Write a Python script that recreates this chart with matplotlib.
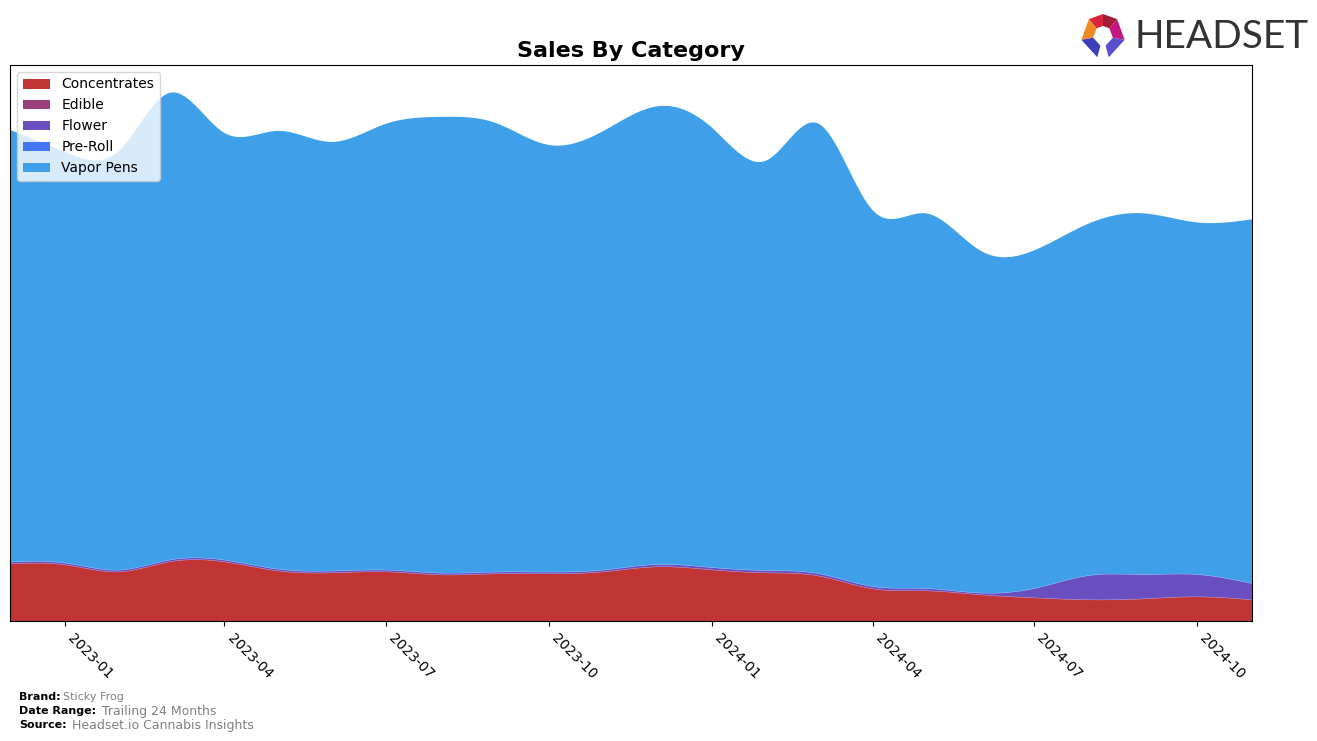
import numpy as np
import matplotlib
matplotlib.use("Agg")
import matplotlib.pyplot as plt
import matplotlib.dates as mdates
from matplotlib.patches import Polygon
import datetime as dt

# ---------------- data (monthly sales, relative units) ----------------
months = ["2022-12", "2023-01", "2023-02", "2023-03", "2023-04", "2023-05",
          "2023-06", "2023-07", "2023-08", "2023-09", "2023-10", "2023-11",
          "2023-12", "2024-01", "2024-02", "2024-03", "2024-04", "2024-05",
          "2024-06", "2024-07", "2024-08", "2024-09", "2024-10", "2024-11"]

categories = ["Concentrates", "Edible", "Flower", "Pre-Roll", "Vapor Pens"]

concentrates = [57, 56, 49, 59, 59, 50, 48, 49, 46, 47, 47, 49,
                54, 51, 48, 45, 32, 30, 26, 23, 21, 22, 24, 21]
edible = [0.3, 0.3, 0.3, 0.3, 0.3, 0.3, 0.3, 0.3, 0.3, 0.3, 0.3, 0.3,
          0.3, 0.3, 0.3, 0.3, 0.3, 0.3, 0.3, 0.3, 0.3, 0.3, 0.3, 0.3]
flower = [1.5, 1.5, 1.5, 1.5, 1.5, 1.5, 1.5, 1.5, 1.5, 1.5, 1.5, 1.5,
          2.0, 2.0, 2.0, 2.0, 2.0, 2.0, 1.5, 9, 24, 24, 22, 16]
preroll = [0.3, 0.3, 0.3, 0.3, 0.3, 0.3, 0.3, 0.3, 0.3, 0.3, 0.3, 0.3,
           0.3, 0.3, 0.3, 0.3, 0.3, 0.3, 0.3, 0.3, 0.3, 0.3, 0.3, 0.3]
vapor_pens = [432, 411, 420, 467, 427, 438, 429, 446, 456, 449, 427, 439,
              458, 440, 410, 450, 376, 375, 342, 338, 352, 361, 352, 364]

colors = ["#C13434", "#9A3F7C", "#6A4FC0", "#4375F5", "#3FA0E9"]

tick_labels = ["2023-01", "2023-04", "2023-07", "2023-10",
               "2024-01", "2024-04", "2024-07", "2024-10"]

# ---------------- helpers ----------------
def natural_spline(x, y, xs):
    x = np.asarray(x, float)
    y = np.asarray(y, float)
    n = len(x)
    h = np.diff(x)
    A = np.zeros((n, n))
    r = np.zeros(n)
    A[0, 0] = 1
    A[-1, -1] = 1
    for i in range(1, n - 1):
        A[i, i - 1] = h[i - 1]
        A[i, i] = 2 * (h[i - 1] + h[i])
        A[i, i + 1] = h[i]
        r[i] = 3 * ((y[i + 1] - y[i]) / h[i] - (y[i] - y[i - 1]) / h[i - 1])
    c = np.linalg.solve(A, r)
    b = (y[1:] - y[:-1]) / h - h * (2 * c[:-1] + c[1:]) / 3
    d = (c[1:] - c[:-1]) / (3 * h)
    idx = np.clip(np.searchsorted(x, xs) - 1, 0, n - 2)
    dx = xs - x[idx]
    return y[idx] + b[idx] * dx + c[idx] * dx ** 2 + d[idx] * dx ** 3

dates = [dt.datetime.strptime(m, "%Y-%m") for m in months]
xnum = mdates.date2num(dates)
xs = np.linspace(xnum[0], xnum[-1], 1500)

series = [concentrates, edible, flower, preroll, vapor_pens]
smooth = [np.clip(natural_spline(xnum, s, xs), 0, None) for s in series]

# ---------------- figure ----------------
W, H = 1317, 741
fig = plt.figure(figsize=(W / 100, H / 100), dpi=100)
ax = fig.add_axes([10 / W, 1 - 621 / H, (1252 - 10) / W, (621 - 65) / H])

ax.stackplot(xs, *smooth, labels=categories, colors=colors, linewidth=0)

ax.set_xlim(xnum[0], xnum[-1])
ax.set_ylim(0, 556)
ax.set_yticks([])
ax.xaxis.set_major_locator(mdates.MonthLocator(bymonth=[1, 4, 7, 10]))
ax.xaxis.set_major_formatter(mdates.DateFormatter("%Y-%m"))
for lbl in ax.get_xticklabels():
    lbl.set_rotation(-45)
    lbl.set_ha("left")
    lbl.set_fontsize(10)

ax.set_title("Sales By Category", fontsize=16, fontweight="bold", pad=6)

leg = ax.legend(loc="upper left", fontsize=10, framealpha=0.8,
                borderaxespad=0.5)

# ---------------- footer text ----------------
def fy(py):
    return 1 - py / H

fig.text(19 / W, fy(697), "Brand:", fontsize=8, fontweight="bold", va="center")
fig.text(63 / W, fy(697), "Sticky Frog", fontsize=8, color="#808080", va="center")
fig.text(19 / W, fy(711), "Date Range:", fontsize=8, fontweight="bold", va="center")
fig.text(102 / W, fy(711), "Trailing 24 Months", fontsize=9, color="#808080", va="center")
fig.text(19 / W, fy(725), "Source:", fontsize=8, fontweight="bold", va="center")
fig.text(72 / W, fy(725), "Headset.io Cannabis Insights", fontsize=9, color="#808080", va="center")

# ---------------- logo ----------------
fig.text(1134 / W, fy(37), "HEADSET", fontsize=28, color="#333333",
         va="center", ha="left", family=["Lato", "DejaVu Sans"])

cx, cy = 1103, 36
R, r_in = 22, 10
seg_colors = ["#5B4FD0", "#C2177F", "#A31B3B", "#D8263C", "#F08A24", "#3B3FB8"]
bounds = [-75, -10, 50, 90, 130, 190, 255]
for i in range(6):
    a0, a1 = np.deg2rad(bounds[i]), np.deg2rad(bounds[i + 1])
    pts = [(cx + R * np.cos(a0), cy - R * np.sin(a0)),
           (cx + R * np.cos(a1), cy - R * np.sin(a1)),
           (cx + r_in * np.cos(a1), cy - r_in * np.sin(a1)),
           (cx + r_in * np.cos(a0), cy - r_in * np.sin(a0))]
    pts = [(px / W, fy(py)) for px, py in pts]
    fig.add_artist(Polygon(pts, closed=True, transform=fig.transFigure,
                           facecolor=seg_colors[i], edgecolor="none"))

fig.savefig("out.png", dpi=100)
